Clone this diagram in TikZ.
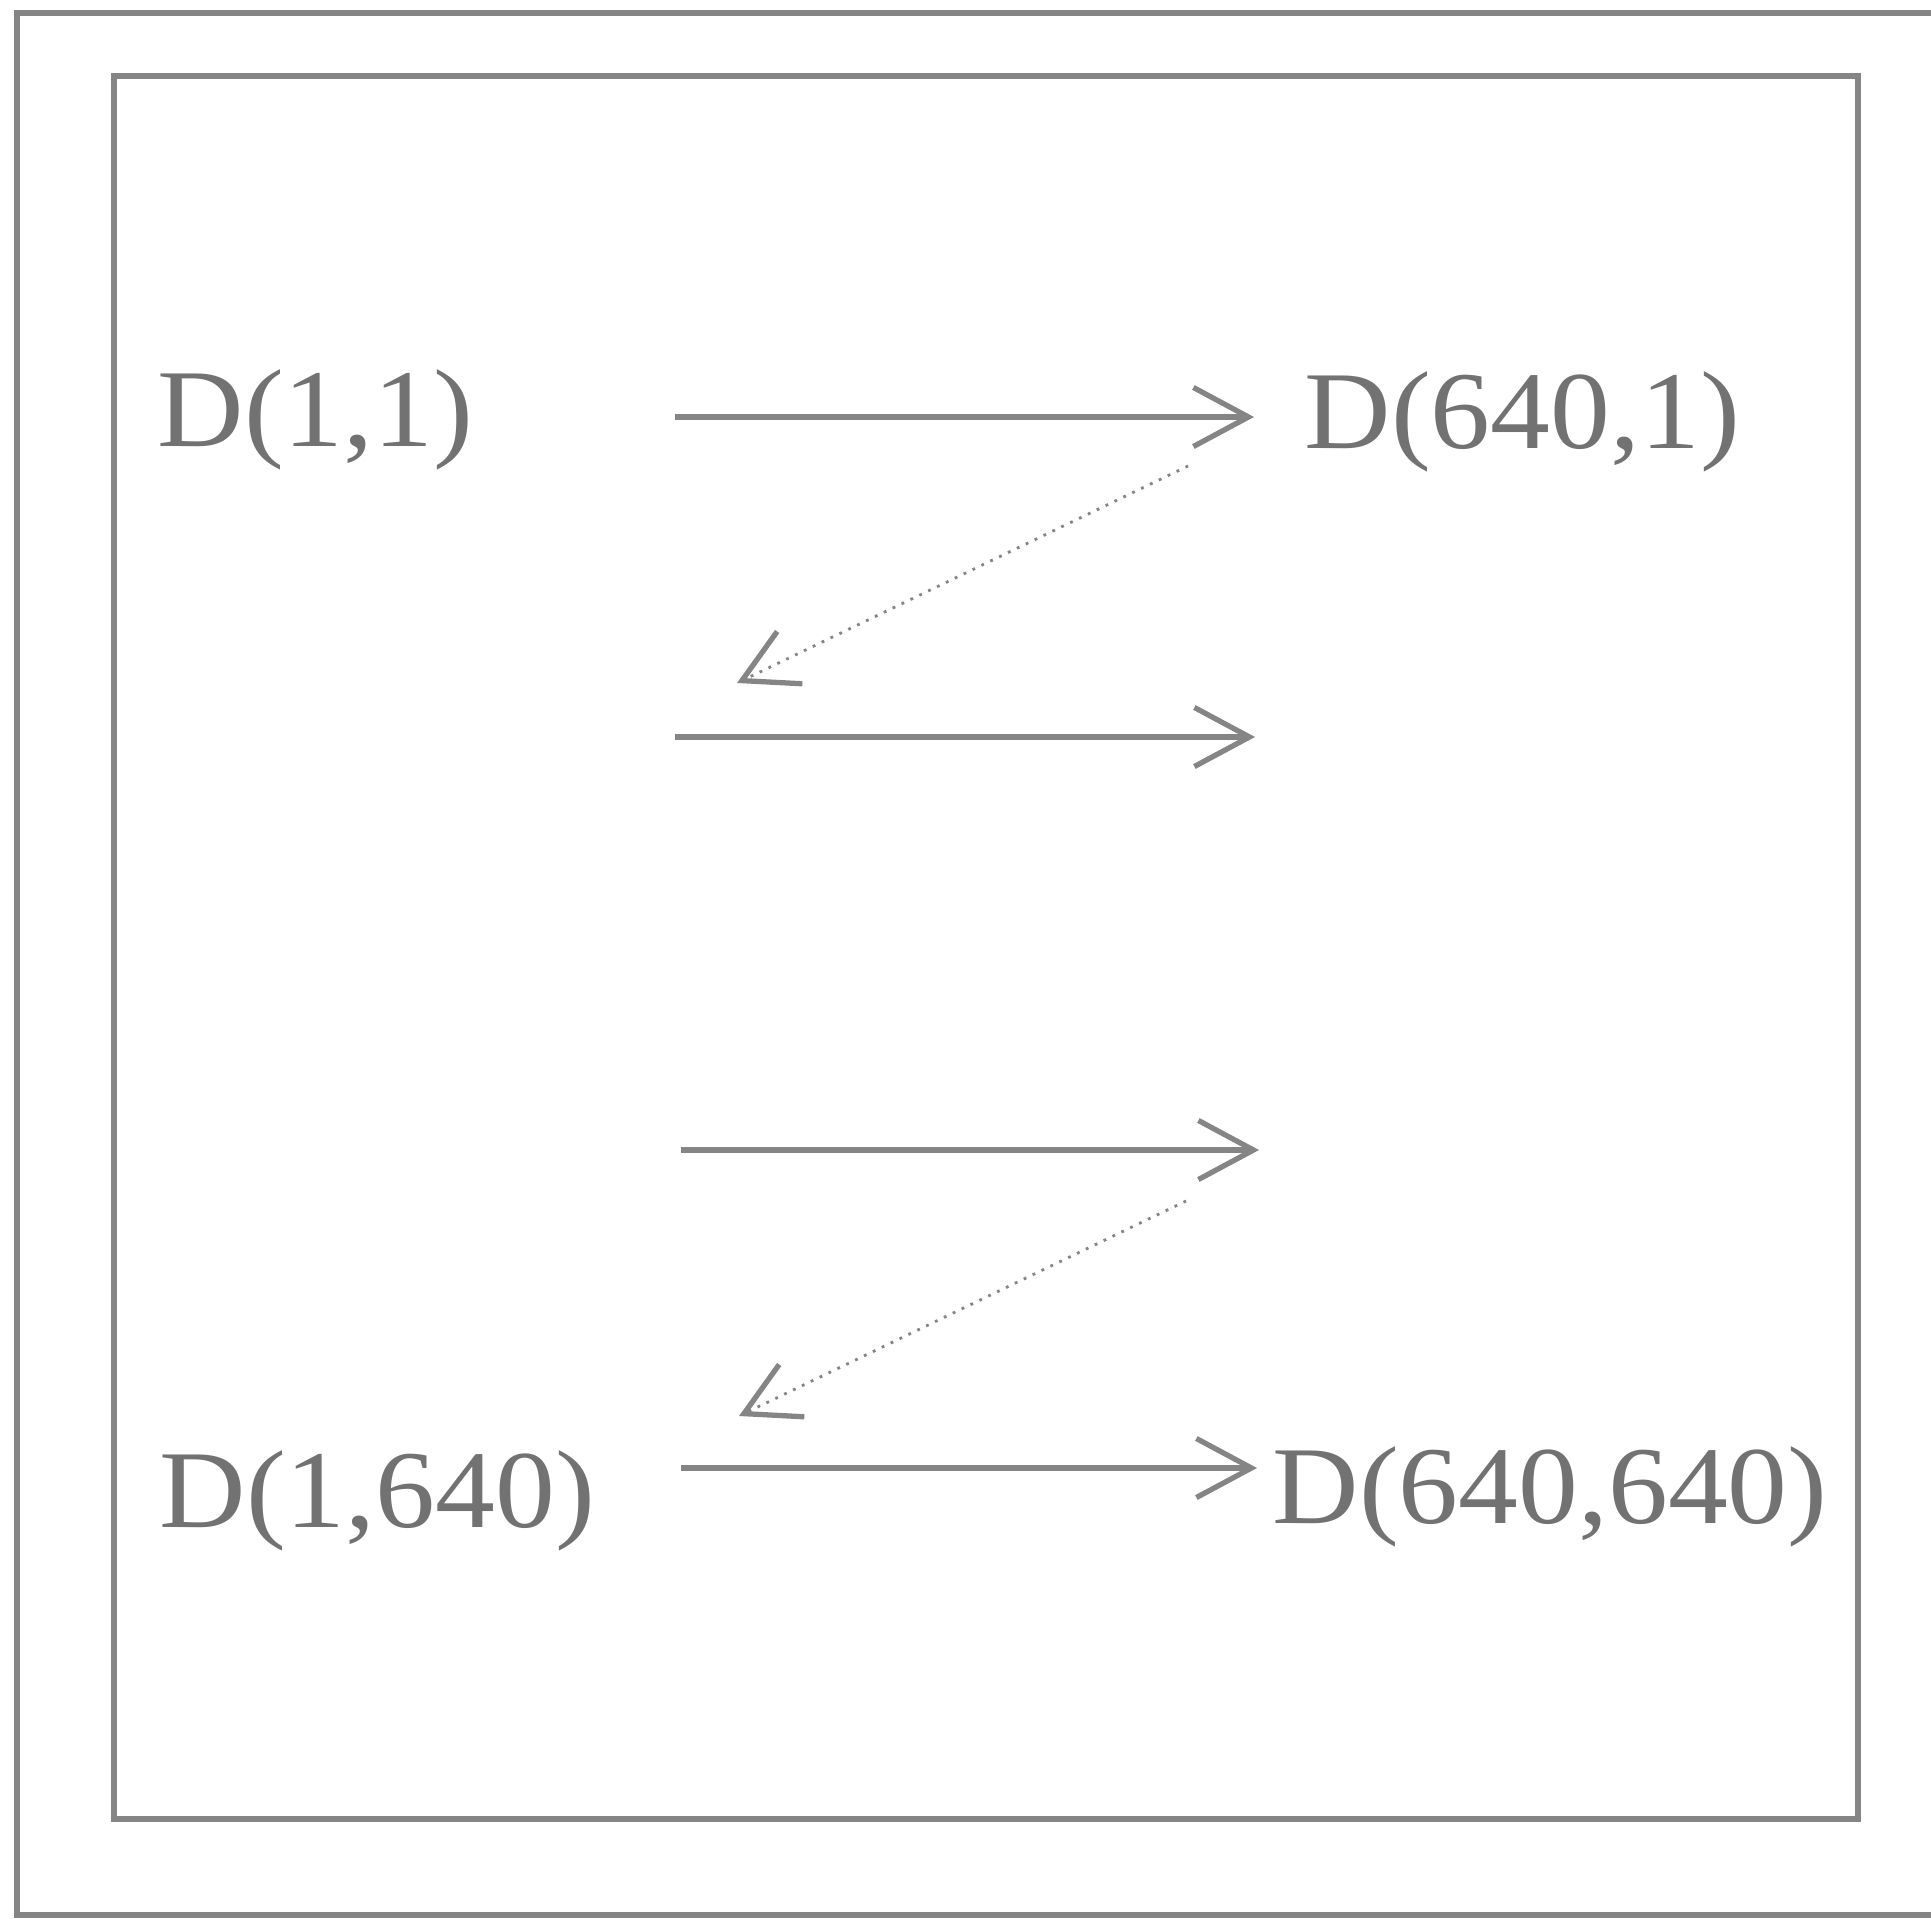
\documentclass[tikz,border=0pt]{standalone}
\usepackage{fontspec}
\setmainfont{Liberation Serif}[FakeStretch=1.08]
\usetikzlibrary{arrows.meta}
\definecolor{linegray}{HTML}{858585}
\definecolor{textgray}{HTML}{727272}
\begin{document}
\begin{tikzpicture}[x=0.01cm,y=-0.01cm,
  frame/.style={draw=linegray,line width=1.6pt},
  lbl/.style={text=textgray,inner sep=0pt,anchor=base west,font=\fontsize{31.5}{38}\selectfont},
  scan/.style={draw=linegray,line width=1.5pt,-{Straight Barb[length=5.5mm,width=5.9mm,line width=1.5pt]}},
  jump/.style={draw=linegray,line width=0.8pt,dotted,-{Straight Barb[length=5.3mm,width=5.8mm,line width=1.5pt]}}]
\clip (0,0) rectangle (1931,1919);
\fill[white] (0,0) rectangle (1931,1919);
% frames
\draw[frame] (17,13) rectangle (2100,1915);
\draw[frame] (114,76) rectangle (1858,1819);
% labels
\node[lbl] (d11) at (157,447) {D(1,1)};
\node[lbl] (d6401) at (1304,449) {D(640,1)};
\node[lbl] (d1640) at (159,1527) {D(1,640)};
\node[lbl] (d640640) at (1272,1523) {D(640,640)};
% arrow end points
\coordinate (a1s) at (675,417);  \coordinate (a1e) at (1254,417);
\coordinate (j1s) at (1188,466); \coordinate (j1e) at (737,683);
\coordinate (a2s) at (675,737);  \coordinate (a2e) at (1255,737);
\coordinate (a3s) at (681,1150); \coordinate (a3e) at (1259,1150);
\coordinate (j2s) at (1186,1201); \coordinate (j2e) at (739,1416);
\coordinate (a4s) at (681,1468); \coordinate (a4e) at (1257,1468);
% connectors
\draw[scan] (a1s) -- (a1e);
\draw[jump] (j1s) -- (j1e);
\draw[scan] (a2s) -- (a2e);
\draw[scan] (a3s) -- (a3e);
\draw[jump] (j2s) -- (j2e);
\draw[scan] (a4s) -- (a4e);
\end{tikzpicture}
\end{document}
